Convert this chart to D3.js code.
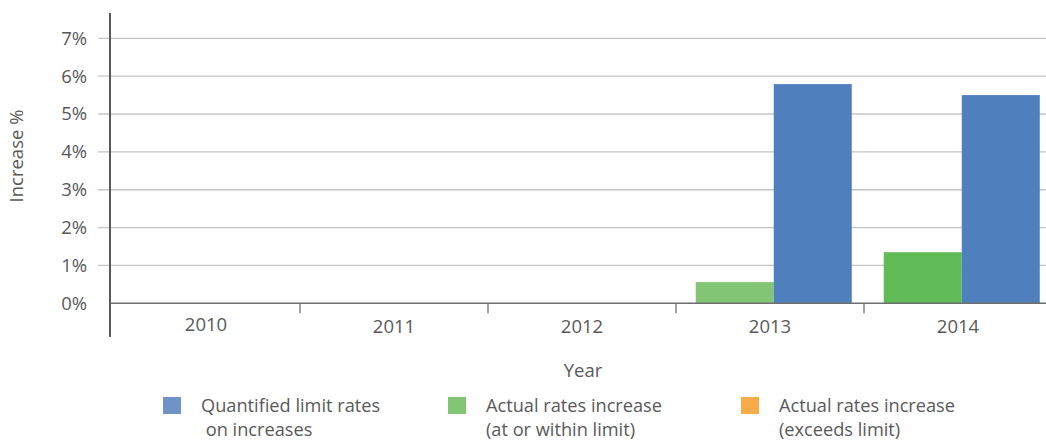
<!DOCTYPE html>
<html>
<head>
<meta charset="utf-8">
<script src="https://cdn.jsdelivr.net/npm/d3@7/dist/d3.min.js"></script>
<style>
  html, body { margin: 0; padding: 0; background: #fff; }
  svg { display: block; font-family: "Open Sans", "Noto Sans", sans-serif; }
</style>
</head>
<body>
<svg id="chart" width="1046" height="441"></svg>
<script>
// Categories and series values (percent increase)
const years = ["2010", "2011", "2012", "2013", "2014"];
const quantifiedLimit = [0, 0, 0, 5.79, 5.50];
const actualWithinLimit = [0, 0, 0, 0.56, 1.35];
const actualExceedsLimit = [0, 0, 0, 0, 0];
const yTicks = [0, 1, 2, 3, 4, 5, 6, 7];
const legendLabels = [
  ["Quantified limit rates", " on increases"],
  ["Actual rates increase", "(at or within limit)"],
  ["Actual rates increase", "(exceeds limit)"]
];

// Styling
const textColor = "#595959";
const colors = {
  quantified: "#4f80bd",
  within: "#82c574",
  withinStrong: "#60bb56",
  exceeds: "#f9ab4a",
  legendQuantified: "#6f93c6"
};

const svg = d3.select("#chart");
const W = 1046;

const x = d3.scaleBand().domain(years).range([112, 1052]).padding(0);
const bw = x.bandwidth();
// Two bar slots per year: actual (stacked within + exceeds) then quantified limit
const x1 = d3.scaleBand().domain(["actual", "quantified"]).range([bw * 0.105, bw * 0.935]).padding(0);
const y = d3.scaleLinear().domain([0, 7]).range([303.3, 38.3]);

// Gridlines
svg.append("g").selectAll("line").data(yTicks.filter(t => t > 0)).join("line")
  .attr("x1", 98).attr("x2", W)
  .attr("y1", d => y(d)).attr("y2", d => y(d))
  .attr("stroke", "#c4c4c4").attr("stroke-width", 1.3);

// Y tick labels
svg.append("g").selectAll("text").data(yTicks).join("text")
  .attr("x", 87).attr("y", d => y(d))
  .attr("dy", "0.35em")
  .attr("text-anchor", "end")
  .attr("fill", textColor)
  .attr("font-size", 18.5)
  .text(d => d + "%");

// Bars
const rows = years.map((yr, i) => ({
  year: yr,
  within: actualWithinLimit[i],
  exceeds: actualExceedsLimit[i],
  quantified: quantifiedLimit[i]
}));

const bars = svg.append("g");
rows.forEach(r => {
  const gx = x(r.year);
  // within-limit portion
  bars.append("rect")
    .attr("x", gx + x1("actual")).attr("width", x1.bandwidth())
    .attr("y", y(r.within)).attr("height", y(0) - y(r.within))
    .attr("fill", r.year === "2014" ? colors.withinStrong : colors.within);
  // exceeding portion stacked on top
  bars.append("rect")
    .attr("x", gx + x1("actual")).attr("width", x1.bandwidth())
    .attr("y", y(r.within + r.exceeds)).attr("height", y(r.within) - y(r.within + r.exceeds))
    .attr("fill", colors.exceeds);
  bars.append("rect")
    .attr("x", gx + x1("quantified")).attr("width", x1.bandwidth())
    .attr("y", y(r.quantified)).attr("height", y(0) - y(r.quantified))
    .attr("fill", colors.quantified);
});

// Baseline and category separators
svg.append("line")
  .attr("x1", 110).attr("x2", W).attr("y1", y(0)).attr("y2", y(0))
  .attr("stroke", "#6e6e6e").attr("stroke-width", 1.6);
svg.append("g").selectAll("line").data(years.slice(1)).join("line")
  .attr("x1", d => x(d)).attr("x2", d => x(d))
  .attr("y1", y(0)).attr("y2", y(0) + 10)
  .attr("stroke", "#6e6e6e").attr("stroke-width", 1.3);

// Vertical axis line
svg.append("line")
  .attr("x1", 110).attr("x2", 110).attr("y1", 13).attr("y2", 337)
  .attr("stroke", "#595959").attr("stroke-width", 2);

// Category labels
svg.append("g").selectAll("text").data(years).join("text")
  .attr("x", d => x(d) + bw / 2)
  .attr("y", (d, i) => i === 0 ? 325 : 327)
  .attr("dy", "0.35em")
  .attr("text-anchor", "middle")
  .attr("fill", textColor)
  .attr("font-size", 18.5)
  .text(d => d);

// Axis titles
svg.append("text")
  .attr("x", 583).attr("y", 371).attr("dy", "0.35em")
  .attr("text-anchor", "middle").attr("fill", textColor).attr("font-size", 18.5)
  .text("Year");
svg.append("text")
  .attr("transform", "translate(17,156) rotate(-90)")
  .attr("dy", "0.35em")
  .attr("text-anchor", "middle").attr("fill", textColor).attr("font-size", 18.5)
  .text("Increase %");

// Legend
const legendColors = [colors.legendQuantified, colors.within, colors.exceeds];
const legendX = [163, 448, 741];
const lg = svg.append("g").selectAll("g").data(legendLabels).join("g")
  .attr("transform", (d, i) => `translate(${legendX[i]},397)`);
lg.append("rect").attr("width", 18).attr("height", 17)
  .attr("fill", (d, i) => legendColors[i]);
lg.each(function (d) {
  const t = d3.select(this).append("text")
    .attr("fill", textColor).attr("font-size", 18.2);
  d.forEach((line, j) => {
    t.append("tspan").attr("x", 38).attr("y", 9 + j * 24).attr("dy", "0.35em")
      .attr("xml:space", "preserve").style("white-space", "pre").text(line);
  });
});
</script>
</body>
</html>
